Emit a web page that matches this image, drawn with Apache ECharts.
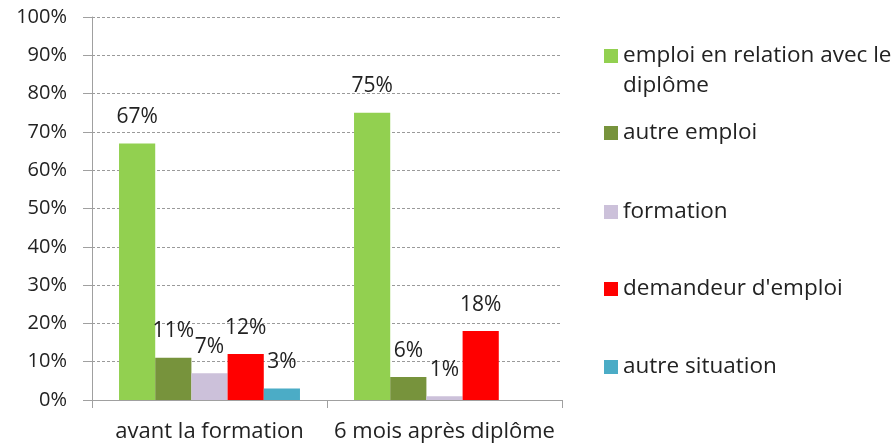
<!DOCTYPE html>
<html>
<head>
<meta charset="utf-8">
<script src="https://cdn.jsdelivr.net/npm/echarts@6/dist/echarts.min.js"></script>
<style>html,body{margin:0;padding:0;background:#fff}#c{width:895px;height:448px}</style>
</head>
<body>
<div id="c"></div>
<script>
const categories = ['avant la formation', '6 mois après diplôme'];
const seriesNames = ['emploi en relation avec le diplôme', 'autre emploi', 'formation', "demandeur d'emploi", 'autre situation'];
const emploiRelation = [67, 75];
const autreEmploi = [11, 6];
const formation = [7, 1];
const demandeur = [12, 18];
const autreSituation = [3, null];
const yTicks = [0, 10, 20, 30, 40, 50, 60, 70, 80, 90, 100];

const colors = ['#92D050', '#77933C', '#CCC1DA', '#FF0000', '#4BACC6'];
const values = [emploiRelation, autreEmploi, formation, demandeur, autreSituation];
const FONT = 'Open Sans';
const TXT = '#222';

const chart = echarts.init(document.getElementById('c'), null, {renderer: 'canvas'});

const legendCenters = [56, 133, 212, 289, 367];
const legends = seriesNames.map((n, i) => {
  const multi = i === 0;
  return {
    data: [n],
    orient: 'vertical',
    left: 604,
    top: multi ? legendCenters[i] - 45 : legendCenters[i] - 15,
    itemWidth: 14,
    itemHeight: 14,
    icon: 'rect',
    padding: 0,
    selectedMode: false,
    formatter: multi ? () => '\nemploi en relation avec le\ndiplôme' : undefined,
    textStyle: {fontFamily: FONT, fontSize: 22.5, color: TXT, lineHeight: 30}
  };
});

chart.setOption({
  animation: false,
  color: colors,
  legend: legends,
  grid: {left: 92, right: 333, top: 17, bottom: 48, containLabel: false},
  xAxis: {
    type: 'category',
    data: categories,
    axisLine: {lineStyle: {color: '#A0A0A0', width: 1}},
    axisTick: {show: true, length: 8, lineStyle: {color: '#A0A0A0'}},
    axisLabel: {fontFamily: FONT, fontSize: 22, color: TXT, margin: 21, interval: 0}
  },
  yAxis: {
    type: 'value',
    min: yTicks[0],
    max: yTicks[yTicks.length - 1],
    interval: 10,
    axisLine: {show: true, lineStyle: {color: '#A0A0A0', width: 1}},
    axisTick: {show: true, length: 9, lineStyle: {color: '#A0A0A0'}},
    axisLabel: {fontFamily: FONT, fontSize: 20, color: TXT, margin: 25, formatter: v => v + '%'},
    splitLine: {show: true, lineStyle: {color: '#9A9A9A', type: [3, 2], width: 1}}
  },
  series: seriesNames.map((n, i) => ({
    name: n,
    type: 'bar',
    data: values[i],
    barGap: '0%',
    barCategoryGap: '23%',
    itemStyle: {color: colors[i]},
    label: {
      show: true,
      position: 'top',
      distance: 16,
      fontFamily: FONT,
      fontSize: 21,
      color: TXT,
      formatter: p => p.value == null ? '' : p.value + '%'
    }
  }))
});
</script>
</body>
</html>
